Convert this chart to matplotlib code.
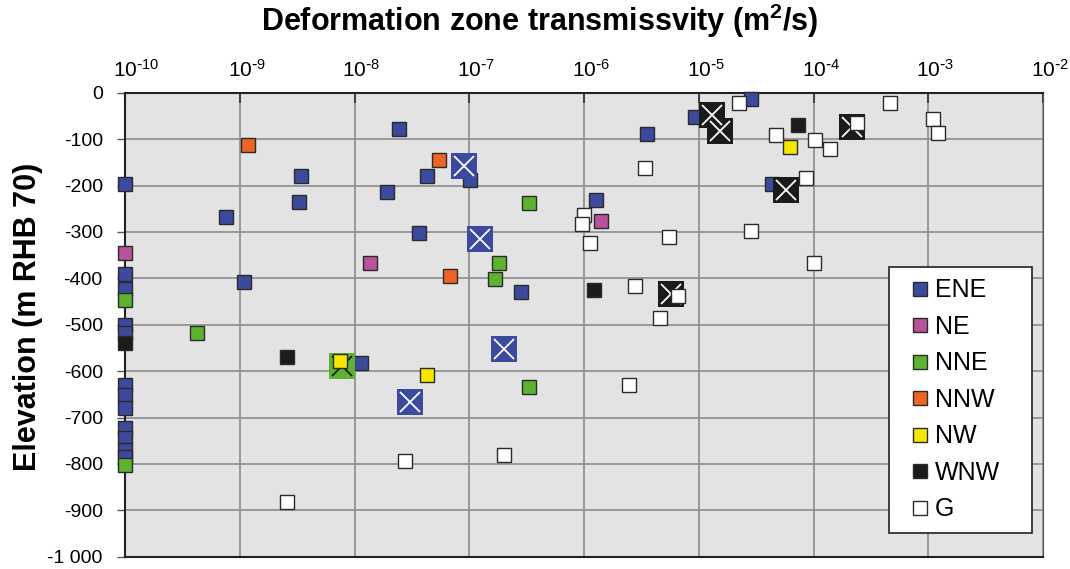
import matplotlib
matplotlib.use('Agg')
import matplotlib.pyplot as plt
from matplotlib.transforms import ScaledTranslation

plt.rcParams['font.family'] = ['Liberation Sans', 'DejaVu Sans']
plt.rcParams['mathtext.default'] = 'regular'

# transmissivity (m2/s) and elevation (m RHB 70) per deformation zone set
ene_t = [1e-10, 1e-10, 1e-10, 1e-10, 1e-10, 1e-10, 1e-10, 1e-10, 1e-10, 1e-10, 1e-10, 1e-10,
         7.6e-10, 3.4e-9, 3.3e-9, 1.08e-9, 1.15e-8, 2.45e-8, 1.01e-7, 4.27e-8, 1.93e-8,
         3.64e-8, 2.82e-7, 1.26e-6, 9.3e-6, 3.52e-6, 2.84e-5, 4.36e-5]
ene_z = [-197, -391, -424, -500, -518, -629, -651, -679, -722, -744, -770, -786,
         -268, -180, -235, -409, -582, -78, -188, -180, -213,
         -303, -430, -231, -52, -90, -14, -197]
ne_t = [1e-10, 1.36e-8, 1.42e-6]
ne_z = [-345, -366, -277]
nne_t = [1e-10, 1e-10, 4.2e-10, 3.3e-7, 1.82e-7, 1.69e-7, 3.3e-7]
nne_z = [-447, -803, -518, -238, -366, -401, -634]
nnw_t = [1.17e-9, 5.4e-8, 6.8e-8]
nnw_z = [-112, -146, -396]
nw_t = [7.5e-9, 4.27e-8, 6.3e-5]
nw_z = [-578, -608, -116]
wnw_t = [1e-10, 2.58e-9, 1.22e-6, 7.3e-5]
wnw_z = [-539, -569, -425, -70]
g_t = [2.58e-9, 2.77e-8, 1.99e-7, 9.95e-7, 9.6e-7, 1.12e-6, 2.24e-5, 4.75e-5, 1.04e-4,
       1.38e-4, 3.4e-6, 8.6e-5, 2.86e-5, 5.45e-6, 1.0e-4, 2.79e-6, 6.65e-6, 4.63e-6,
       2.47e-6, 4.68e-4, 2.41e-4, 1.11e-3, 1.21e-3]
g_z = [-883, -794, -781, -264, -282, -324, -23, -91, -103,
       -121, -163, -184, -299, -312, -366, -417, -438, -485,
       -629, -23, -65, -57, -86]

# large crossed markers
ene_big_t = [8.97e-8, 1.24e-7, 2.0e-7, 3.03e-8]
ene_big_z = [-157, -315, -552, -666]
nne_big_t = [7.8e-9]
nne_big_z = [-590]
wnw_big_t = [1.3e-5, 1.52e-5, 5.77e-5, 5.7e-6, 2.15e-4]
wnw_big_z = [-47, -83, -210, -433, -73]

exponents = list(range(-10, -1))
yt = list(range(-1000, 1, 100))

colors = {'ENE': '#3b4a9c', 'NE': '#b8529c', 'NNE': '#5db330', 'NNW': '#ee6424',
          'NW': '#f7e600', 'WNW': '#1b1b1b', 'G': '#ffffff'}

fig = plt.figure(figsize=(10.7, 5.69), dpi=100)
ax = fig.add_axes([125/1070, 1 - 556.7/569, 918/1070, 464/569])
ax.set_facecolor('#e3e3e3')


def small(t, z, name):
    return ax.plot(t, z, ls='none', marker='s', ms=10, mfc=colors[name], mec='#2a2a2a',
                   mew=1.0, clip_on=False, label=name, zorder=3)[0]


def big(t, z, name, xcol):
    ax.plot(t, z, ls='none', marker='s', ms=19, mfc=colors[name], mew=0, clip_on=False, zorder=3)
    ax.plot(t, z, ls='none', marker='x', ms=14, mec=xcol, mew=1.3, clip_on=False, zorder=3)


h = {}
h['ENE'] = small(ene_t, ene_z, 'ENE')
h['NE'] = small(ne_t, ne_z, 'NE')
h['NNE'] = small(nne_t, nne_z, 'NNE')
h['NNW'] = small(nnw_t, nnw_z, 'NNW')
big(ene_big_t, ene_big_z, 'ENE', 'white')
big(nne_big_t, nne_big_z, 'NNE', '#1b1b1b')
big(wnw_big_t, wnw_big_z, 'WNW', 'white')
h['NW'] = small(nw_t, nw_z, 'NW')
h['WNW'] = small(wnw_t, wnw_z, 'WNW')
h['G'] = small(g_t, g_z, 'G')

ax.set_xscale('log')
ax.set_xlim(1e-10, 1e-2)
ax.set_ylim(-1000, 0)
ax.xaxis.tick_top()
ax.minorticks_off()
decades = [10.0 ** e for e in exponents]
ax.set_xticks(decades)
ax.set_xticklabels([])
# decade labels sit a little right of their gridlines, as in the original
trans = ax.get_xaxis_transform() + ScaledTranslation(-12 / 100, 0, fig.dpi_scale_trans)
for d, e in zip(decades, exponents):
    ax.text(d, 1.0 + 22.7 / 464, '10$^{\\text{-}%d}$' % abs(e), transform=trans, ha='left',
            va='center', fontsize=15)

ax.set_yticks(yt)
ax.set_yticklabels(['-1 000' if v == -1000 else str(v) for v in yt], fontsize=14)
ax.tick_params(axis='x', direction='in', length=7, width=1.5, color='#444444')
ax.tick_params(axis='y', direction='out', length=5.5, width=1, color='#555555', pad=10.5)
ax.grid(True, color='#8c8c8c', lw=1.2)
ax.set_axisbelow(True)
for s in ['top', 'left', 'bottom']:
    ax.spines[s].set_color('#222222')
    ax.spines[s].set_linewidth(1.5)
ax.spines['right'].set_color('#555555')

fig.text(540/1070, 1 - 21/569, 'Deformation zone transmissvity (m$^2$/s)', fontsize=22,
         fontweight='bold', ha='center', va='center')
fig.text(28/1070, 1 - 317/569, 'Elevation (m RHB 70)', fontsize=22, fontweight='bold',
         ha='center', va='center', rotation=90)

names = ['ENE', 'NE', 'NNE', 'NNW', 'NW', 'WNW', 'G']
leg = ax.legend([h[n] for n in names], names, loc='upper left', mode='expand',
                bbox_to_anchor=(0.832, 0.06, 0.156, 0.564),
                fontsize=18, frameon=True, fancybox=False, framealpha=1, edgecolor='#222222',
                labelspacing=0.5, handletextpad=-0.2, handlelength=1.6, borderpad=0.45,
                borderaxespad=0)
leg.get_frame().set_linewidth(1.2)
leg.set_zorder(5)

fig.savefig('out.png', dpi=100)
